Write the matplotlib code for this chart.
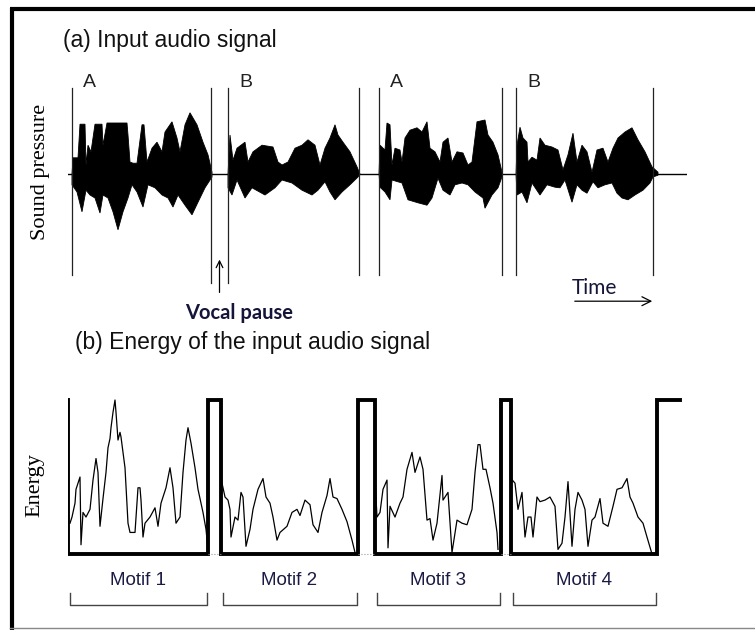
import numpy as np
import matplotlib.pyplot as plt
from matplotlib.lines import Line2D

plt.rcParams["font.family"] = "Liberation Sans"

# ---- waveform envelopes (time in 10 ms steps, amplitude normalised) ----
# each utterance: upper envelope (t, a) and lower envelope (t, a)
a1_up_t = [4, 5, 10, 12, 17, 18, 20, 23, 27, 34, 35, 39, 59, 60, 62, 65, 69, 74, 76, 79, 84, 89,
           94, 97, 104, 109, 112, 117, 122, 129, 135, 140, 144]
a1_up_a = [0, 0.27, 0.27, 0.83, 0.83, 0.15, 0.48, 0.37, 0.83, 0.83, 0.48, 0.85, 0.85, 0.65, 0.20,
           0.18, 0.18, 0.82, 0.82, 0.20, 0.43, 0.53, 0.37, 0.70, 0.87, 0.60, 0.37, 0.82, 1.02,
           0.82, 0.53, 0.32, 0.03]
a1_lo_t = [4, 9, 14, 18, 22, 27, 32, 35, 40, 45, 50, 55, 60, 64, 69, 75, 80, 87, 94, 100, 105,
           110, 117, 124, 130, 137, 144]
a1_lo_a = [-0.18, -0.30, -0.63, -0.27, -0.35, -0.40, -0.65, -0.35, -0.40, -0.63, -0.93, -0.63,
           -0.40, -0.18, -0.30, -0.55, -0.18, -0.23, -0.35, -0.40, -0.55, -0.35, -0.52, -0.68,
           -0.47, -0.23, -0.05]

b1_up_t = [160, 162, 165, 169, 177, 180, 185, 194, 205, 210, 214, 220, 227, 234, 240, 247, 252,
           257, 262, 267, 270, 275, 282, 289, 292]
b1_up_a = [0, 0.65, 0.23, 0.43, 0.53, 0.20, 0.37, 0.48, 0.45, 0.20, 0.15, 0.20, 0.43, 0.48, 0.57,
           0.48, 0.15, 0.43, 0.60, 0.82, 0.65, 0.53, 0.37, 0.12, 0]
b1_lo_t = [160, 164, 169, 177, 184, 197, 207, 214, 224, 234, 244, 250, 257, 262, 267, 274, 282, 290]
b1_lo_a = [-0.23, -0.35, -0.10, -0.40, -0.23, -0.35, -0.23, -0.10, -0.15, -0.27, -0.35, -0.27,
           -0.13, -0.30, -0.43, -0.30, -0.18, -0.05]

a2_up_t = [311, 312, 317, 319, 322, 324, 327, 332, 334, 337, 342, 349, 354, 359, 362, 367, 372,
           375, 380, 384, 389, 395, 400, 404, 409, 417, 420, 425, 430, 434]
a2_up_a = [0, 0.48, 0.40, 0.85, 0.82, 0.15, 0.43, 0.40, 0.20, 0.60, 0.73, 0.77, 0.70, 0.87, 0.43,
           0.37, 0.20, 0.53, 0.60, 0.20, 0.37, 0.35, 0.15, 0.20, 0.87, 0.90, 0.65, 0.53, 0.32, 0.03]
a2_lo_t = [312, 317, 322, 324, 334, 340, 350, 359, 364, 370, 375, 382, 387, 394, 400, 407, 415,
           417, 424, 430, 434]
a2_lo_a = [-0.22, -0.30, -0.43, -0.10, -0.15, -0.43, -0.48, -0.52, -0.40, -0.07, -0.27, -0.35,
           -0.18, -0.15, -0.18, -0.30, -0.40, -0.57, -0.35, -0.23, -0.05]

b2_up_t = [448, 449, 452, 455, 459, 460, 464, 469, 472, 477, 484, 490, 495, 500, 505, 509, 514,
           519, 524, 529, 535, 540, 545, 550, 557, 564, 570, 577, 584, 590]
b2_up_a = [0, 0.48, 0.78, 0.60, 0.53, 0.20, 0.28, 0.23, 0.60, 0.48, 0.45, 0.40, 0.07, 0.32, 0.68,
           0.20, 0.48, 0.37, 0.03, 0.40, 0.43, 0.20, 0.43, 0.60, 0.70, 0.77, 0.57, 0.37, 0.12, 0.03]
b2_lo_t = [449, 454, 459, 464, 472, 479, 487, 492, 497, 504, 509, 514, 519, 525, 530, 537, 544,
           549, 554, 560, 567, 575, 582, 585, 590]
b2_lo_a = [-0.35, -0.30, -0.48, -0.15, -0.35, -0.18, -0.22, -0.23, -0.10, -0.47, -0.18, -0.27,
           -0.32, -0.13, -0.23, -0.18, -0.15, -0.32, -0.40, -0.43, -0.35, -0.27, -0.15, -0.05,
           -0.02]

seg_bounds = [4, 143, 160, 291, 311, 434, 448, 585]
seg_labels = ["A", "B", "A", "B"]
trace_end = 619

# ---- short-time energy (0-100) per motif ----
m1_t = [2, 4, 7, 8, 12, 13, 15, 18, 22, 25, 28, 30, 32, 35, 38, 40, 42, 43, 45, 47, 48, 50, 52,
        53, 57, 60, 62, 67, 70, 72, 73, 75, 77, 82, 87, 90, 93, 98, 102, 105, 108, 112, 115, 118,
        120, 123, 127, 130, 135, 138, 140]
m1_e = [20, 24, 33, 42, 50, 6, 27, 24, 29, 48, 62, 53, 18, 36, 53, 69, 75, 82, 92, 100, 92, 74,
        79, 76, 56, 20, 14, 14, 43, 43, 35, 11, 20, 24, 30, 18, 33, 43, 56, 43, 20, 24, 53, 74,
        82, 72, 56, 42, 27, 16, 3]
m2_t = [153, 157, 160, 162, 163, 167, 170, 173, 175, 178, 182, 185, 190, 195, 198, 202, 205, 209,
        212, 219, 224, 229, 232, 237, 242, 245, 250, 254, 259, 262, 265, 269, 274, 279, 284, 287]
m2_e = [49, 37, 35, 29, 11, 24, 22, 40, 37, 5, 16, 29, 42, 49, 37, 33, 24, 9, 14, 18, 27, 29, 25,
        35, 32, 19, 14, 27, 38, 49, 37, 36, 29, 21, 9, 1]
m3_t = [307, 309, 312, 315, 319, 320, 322, 327, 332, 335, 339, 344, 347, 352, 355, 359, 362, 365,
        369, 374, 375, 380, 384, 389, 394, 399, 404, 407, 410, 412, 415, 418, 422, 425, 429, 430]
m3_e = [49, 24, 27, 42, 48, 4, 31, 24, 33, 37, 55, 66, 53, 63, 55, 22, 23, 9, 20, 51, 35, 40, 1,
        22, 20, 19, 29, 53, 71, 71, 55, 55, 43, 33, 14, 3]
m4_t = [443, 447, 450, 454, 457, 460, 463, 465, 469, 472, 477, 482, 487, 490, 494, 497, 500, 504,
        507, 510, 514, 517, 520, 524, 527, 532, 535, 540, 545, 549, 554, 559, 562, 565, 570, 575,
        579, 584]
m4_e = [49, 46, 29, 40, 11, 24, 24, 11, 37, 34, 35, 37, 31, 3, 7, 24, 47, 5, 29, 40, 35, 29, 5,
        22, 24, 36, 20, 18, 31, 42, 43, 49, 37, 33, 24, 20, 11, 0]

motif_names = ["Motif 1", "Motif 2", "Motif 3", "Motif 4"]
pause_start = [-6, 140, 290, 433, 589]
pause_end = [0, 153, 307, 443, 612]

W, H = 755, 630
fig = plt.figure(figsize=(W / 100, H / 100), dpi=100)
fig.patch.set_facecolor("white")

# overlay canvas in pixel units for frame and headings
canvas = fig.add_axes([0, 0, 1, 1])
canvas.set_xlim(0, W)
canvas.set_ylim(H, 0)
canvas.axis("off")

canvas.add_line(Line2D([10, W], [9, 9], color="black", lw=3.0, solid_capstyle="butt"))
canvas.add_line(Line2D([12, 12], [8, H], color="black", lw=3.0, solid_capstyle="butt"))
canvas.add_line(Line2D([10, W], [628, 628], color="#888888", lw=1.0))

canvas.text(63, 41, "(a) Input audio signal", fontsize=16.5, color="#111111", va="center")
canvas.text(75, 343, "(b) Energy of the input audio signal", fontsize=16.5, color="#111111",
            va="center")
canvas.text(40, 172, "Sound pressure", family="Liberation Serif", fontsize=16, rotation=90,
            ha="center", va="center")
canvas.text(35, 485, "Energy", family="Liberation Serif", fontsize=16, rotation=90,
            ha="center", va="center")
canvas.text(185, 313, "Vocal pause", family="Lato", weight="bold", fontsize=14.5,
            color="#15153a", va="center")

# ---- panel (a): waveform ----
ax_a = fig.add_axes([68 / W, (H - 318) / H, 619 / W, 246 / H])
ax_a.set_xlim(0, trace_end)
ax_a.set_ylim(-2.4, 1.7)
ax_a.axis("off")

ax_a.plot([0, trace_end], [0, 0], color="black", lw=1.0)
envelopes = [(a1_up_t, a1_up_a, a1_lo_t, a1_lo_a),
             (b1_up_t, b1_up_a, b1_lo_t, b1_lo_a),
             (a2_up_t, a2_up_a, a2_lo_t, a2_lo_a),
             (b2_up_t, b2_up_a, b2_lo_t, b2_lo_a)]
for ut, ua, lt, la in envelopes:
    xs = np.concatenate([ut, lt[::-1]])
    ys = np.concatenate([ua, la[::-1]])
    ax_a.fill(xs, ys, color="black", lw=0.6, ec="black")

for i, t in enumerate(seg_bounds):
    bottom = -1.82 if i in (1, 2) else -1.68
    ax_a.plot([t, t], [1.43, bottom], color="#222222", lw=0.9)
for i, lab in enumerate(seg_labels):
    ax_a.text(seg_bounds[2 * i] + 11, 1.52, lab, fontsize=14, color="#222222", va="center")

pause_mid = (seg_bounds[1] + seg_bounds[2]) / 2
ax_a.annotate("", xy=(pause_mid, -1.38), xytext=(pause_mid, -2.02),
              arrowprops=dict(arrowstyle="->", color="black", lw=0.9, mutation_scale=12))
ax_a.annotate("", xy=(587, -2.12), xytext=(504, -2.12),
              arrowprops=dict(arrowstyle="->", color="black", lw=0.9, mutation_scale=16))
ax_a.text(504, -1.9, "Time", family="Lato", fontsize=15, color="#15153a", va="center")

# ---- panel (b): energy ----
ax_b = fig.add_axes([68 / W, (H - 623.3) / H, 619 / W, 246.4 / H])
ax_b.set_xlim(0, trace_end)
ax_b.set_ylim(-45, 115)
ax_b.axis("off")

# thick gate line: high during pauses, low during motifs
gate_t, gate_e = [], []
for s, e in zip(pause_start, pause_end):
    if gate_t:
        gate_t += [s, s]
        gate_e += [0, 100]
    else:
        gate_t.append(s)
        gate_e.append(100)
    gate_t += [e, e] if e != pause_end[-1] else [e]
    gate_e += [100, 0] if e != pause_end[-1] else [100]
ax_b.plot(gate_t, gate_e, color="black", lw=2.8, solid_joinstyle="miter")

for s, e in zip(pause_start[1:-1], pause_end[1:-1]):
    ax_b.plot([s, e], [0, 0], color="#999999", lw=0.8, ls=":")

for t, e in [(m1_t, m1_e), (m2_t, m2_e), (m3_t, m3_e), (m4_t, m4_e)]:
    ax_b.plot(t, e, color="black", lw=0.9)

# motif brackets and names
for name, s, e in zip(motif_names, pause_end[:-1], pause_start[1:]):
    ax_b.plot([s + 2, s + 2, e - 1, e - 1], [-25, -33, -33, -25], color="#444444", lw=1.0)
    ax_b.text((s + e) / 2, -17, name, fontsize=13.5, color="#1a1a45", ha="center", va="center")

plt.savefig("out.png", dpi=100)
plt.close()
